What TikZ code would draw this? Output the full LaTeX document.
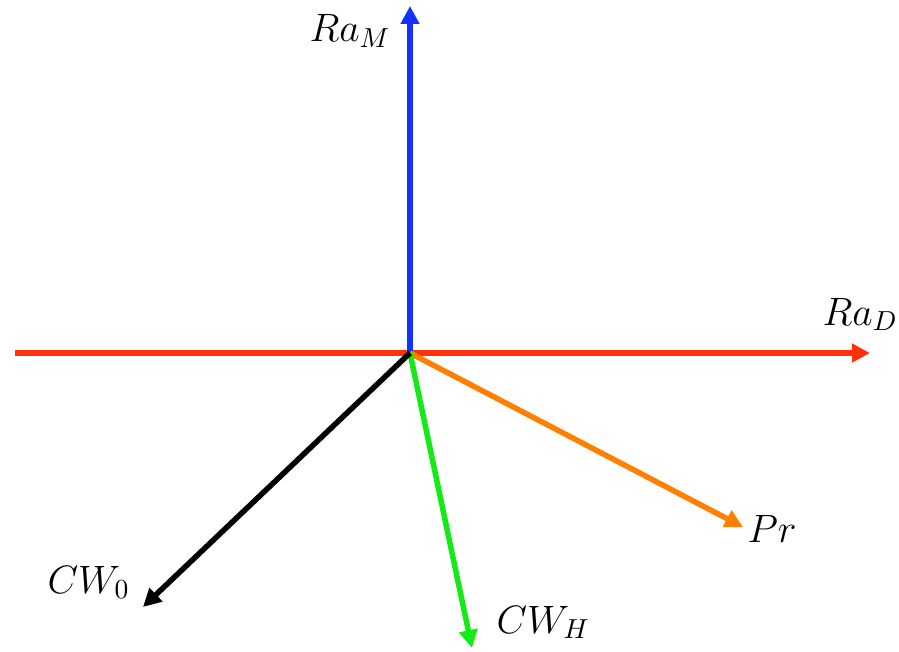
\documentclass[tikz,border=0pt]{standalone}
\usetikzlibrary{arrows.meta}
\definecolor{axblue}{RGB}{20,50,255}
\definecolor{axred}{RGB}{255,50,10}
\definecolor{axorange}{RGB}{255,128,0}
\definecolor{axgreen}{RGB}{20,235,20}
\begin{document}
\begin{tikzpicture}[x=1pt,y=-1pt,
  vec/.style={line width=5.5pt,-{Triangle[length=18pt,width=18pt]}},
  lab/.style={inner sep=0pt,anchor=base west,scale=2.75,font=\fontsize{14.4}{17}\selectfont}]
\useasboundingbox (0,0) rectangle (899,652);
\coordinate (O) at (410,353);
\coordinate (L) at (15,353);
\coordinate (RM) at (410,6);
\coordinate (RD) at (870,353);
\coordinate (PR) at (743,527);
\coordinate (CH) at (472,648);
\coordinate (C0) at (143,607);
\draw[vec,axred,line cap=butt] (L) -- (RD);
\draw[vec,axblue] (O) -- (RM);
\draw[vec,axorange] (O) -- (PR);
\draw[vec,axgreen] (O) -- (CH);
\draw[vec,black] (O) -- (C0);
\node[lab] (lRM) at (309,42) {$Ra_M$};
\node[lab] (lRD) at (822,325) {$Ra_D$};
\node[lab] (lPR) at (747,542) {$Pr$};
\node[lab] (lCH) at (496,633) {$CW_H$};
\node[lab] (lC0) at (47,593) {$CW_0$};
\end{tikzpicture}
\end{document}
